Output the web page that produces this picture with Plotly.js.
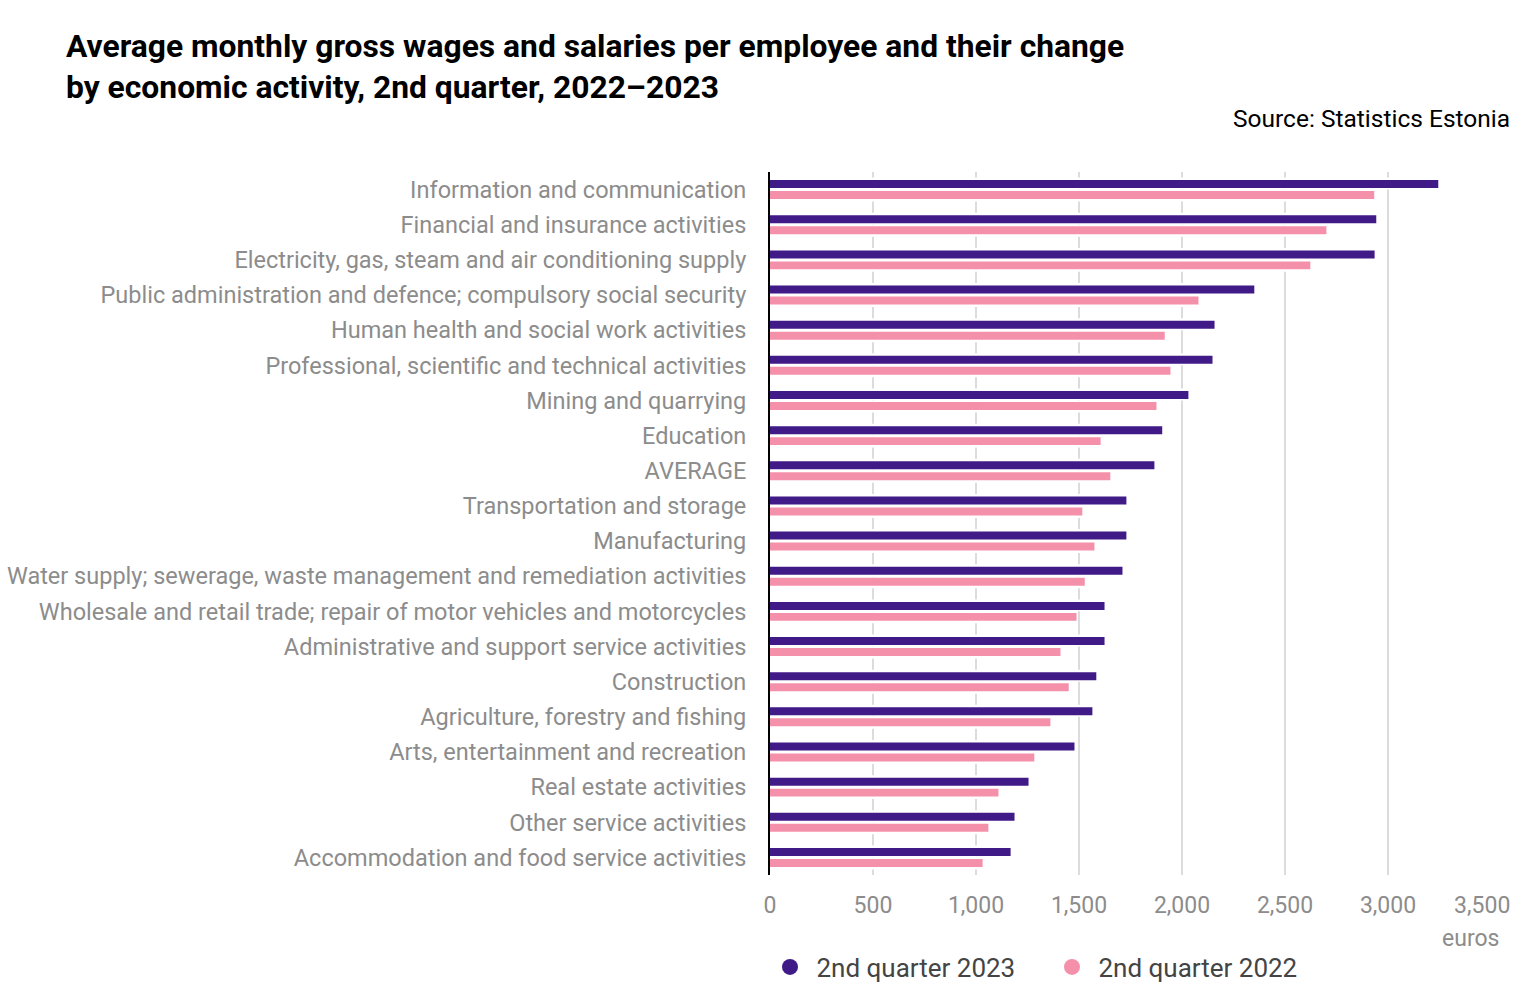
<!DOCTYPE html>
<html>
<head>
<meta charset="utf-8">
<script src="https://cdn.plot.ly/plotly-3.0.1.min.js"></script>
<style>
  html, body { margin: 0; padding: 0; background: #ffffff; }
  #chart { width: 1531px; height: 1000px; }
</style>
</head>
<body>
<div id="chart"></div>
<script>
// ---- data ----
const categories = [
  "Information and communication",
  "Financial and insurance activities",
  "Electricity, gas, steam and air conditioning supply",
  "Public administration and defence; compulsory social security",
  "Human health and social work activities",
  "Professional, scientific and technical activities",
  "Mining and quarrying",
  "Education",
  "AVERAGE",
  "Transportation and storage",
  "Manufacturing",
  "Water supply; sewerage, waste management and remediation activities",
  "Wholesale and retail trade; repair of motor vehicles and motorcycles",
  "Administrative and support service activities",
  "Construction",
  "Agriculture, forestry and fishing",
  "Arts, entertainment and recreation",
  "Real estate activities",
  "Other service activities",
  "Accommodation and food service activities"
];
const wages2023 = [3244, 2943, 2935, 2351, 2158, 2148, 2031, 1904, 1866, 1730,
                   1730, 1711, 1624, 1624, 1584, 1565, 1478, 1255, 1187, 1168];
const wages2022 = [2933, 2701, 2623, 2080, 1916, 1944, 1876, 1605, 1652, 1516,
                   1575, 1528, 1488, 1410, 1450, 1361, 1283, 1109, 1060, 1032];
const seriesNames = ["2nd quarter 2023", "2nd quarter 2022"];
const xTickValues = [0, 500, 1000, 1500, 2000, 2500, 3000, 3500];
const xTickLabels = ["0", "500", "1,000", "1,500", "2,000", "2,500", "3,000", "3,500"];

// ---- styles ----
const PURPLE = "#401a86";
const PINK = "#f590ab";
const FONT = "Roboto, 'Noto Sans', sans-serif";

const barW = 0.2275;
const haloW = 0.341;

// last x label is nudged left so it fits inside the chart, like the original
const xTickText = xTickLabels.map((t, i) => i === xTickLabels.length - 1 ? t + "\u2007\u2009" : t);

const traces = [
  // white halos that hide the gridlines around the bars
  { type: "bar", orientation: "h", y: categories, x: wages2023,
    offset: -haloW, width: haloW, marker: { color: "#ffffff" },
    showlegend: false, hoverinfo: "skip" },
  { type: "bar", orientation: "h", y: categories, x: wages2022,
    offset: 0, width: haloW, marker: { color: "#ffffff" },
    showlegend: false, hoverinfo: "skip" },
  // actual bars
  { type: "bar", orientation: "h", y: categories, x: wages2023, name: seriesNames[0],
    offset: -0.270, width: barW, marker: { color: PURPLE }, showlegend: false },
  { type: "bar", orientation: "h", y: categories, x: wages2022, name: seriesNames[1],
    offset: 0.0427, width: barW, marker: { color: PINK }, showlegend: false },
  // legend entries (circles)
  { type: "scatter", mode: "markers", x: [null], y: [null], name: "\u00a0" + seriesNames[0],
    marker: { color: PURPLE, size: 16, symbol: "circle" }, showlegend: true },
  { type: "scatter", mode: "markers", x: [null], y: [null], name: "\u00a0" + seriesNames[1],
    marker: { color: PINK, size: 16, symbol: "circle" }, showlegend: true }
];

const layout = {
  width: 1531,
  height: 1000,
  paper_bgcolor: "#ffffff",
  plot_bgcolor: "#ffffff",
  font: { family: FONT, color: "#8c8c8c", size: 23 },
  barmode: "overlay",
  margin: { l: 770, r: 40, t: 172, b: 125, pad: 0, autoexpand: false },
  title: {
    text: "<b>Average monthly gross wages and salaries per employee and their change<br>by economic activity, 2nd quarter, 2022\u20132023</b>",
    font: { family: FONT, size: 31.8, color: "#000000" },
    xref: "container", x: 66 / 1531, xanchor: "left",
    yref: "container", y: 1 - 57 / 1000, yanchor: "top"
  },
  xaxis: {
    range: [0, 3500],
    tickvals: xTickValues,
    ticktext: xTickText,
    showgrid: true,
    gridcolor: "#dcdcdc",
    gridwidth: 2,
    zeroline: false,
    showline: false,
    ticks: "",
    ticklabelstandoff: 14,
    tickfont: { family: FONT, size: 23, color: "#8c8c8c" },
    automargin: false,
    fixedrange: true
  },
  yaxis: {
    type: "category",
    categoryorder: "array",
    categoryarray: categories,
    range: [categories.length - 0.5, -0.5],
    showgrid: false,
    zeroline: false,
    showline: true,
    linecolor: "#000000",
    linewidth: 2,
    ticks: "",
    ticklabelstandoff: 17,
    tickfont: { family: FONT, size: 23.5, color: "#8c8c8c" },
    automargin: false,
    fixedrange: true
  },
  legend: {
    orientation: "h",
    x: 0.0, xanchor: "left",
    yref: "container",
    y: 1 - 967 / 1000, yanchor: "middle",
    font: { family: FONT, size: 26, color: "#444444" },
    entrywidth: 237,
    entrywidthmode: "pixels",
    bgcolor: "rgba(0,0,0,0)"
  },
  annotations: [
    {
      text: "Source: Statistics Estonia",
      xref: "paper", yref: "paper",
      x: (1512 - 770) / 721, xanchor: "right",
      y: (875 - 119) / 703, yanchor: "middle",
      showarrow: false,
      font: { family: FONT, size: 24.5, color: "#000000" }
    },
    {
      text: "euros",
      xref: "paper", yref: "paper",
      x: (1501 - 770) / 721, xanchor: "right",
      y: (875 - 938) / 703, yanchor: "middle",
      showarrow: false,
      font: { family: FONT, size: 23, color: "#8c8c8c" }
    }
  ]
};

Plotly.newPlot("chart", traces, layout, { displayModeBar: false, staticPlot: true });
</script>
</body>
</html>
